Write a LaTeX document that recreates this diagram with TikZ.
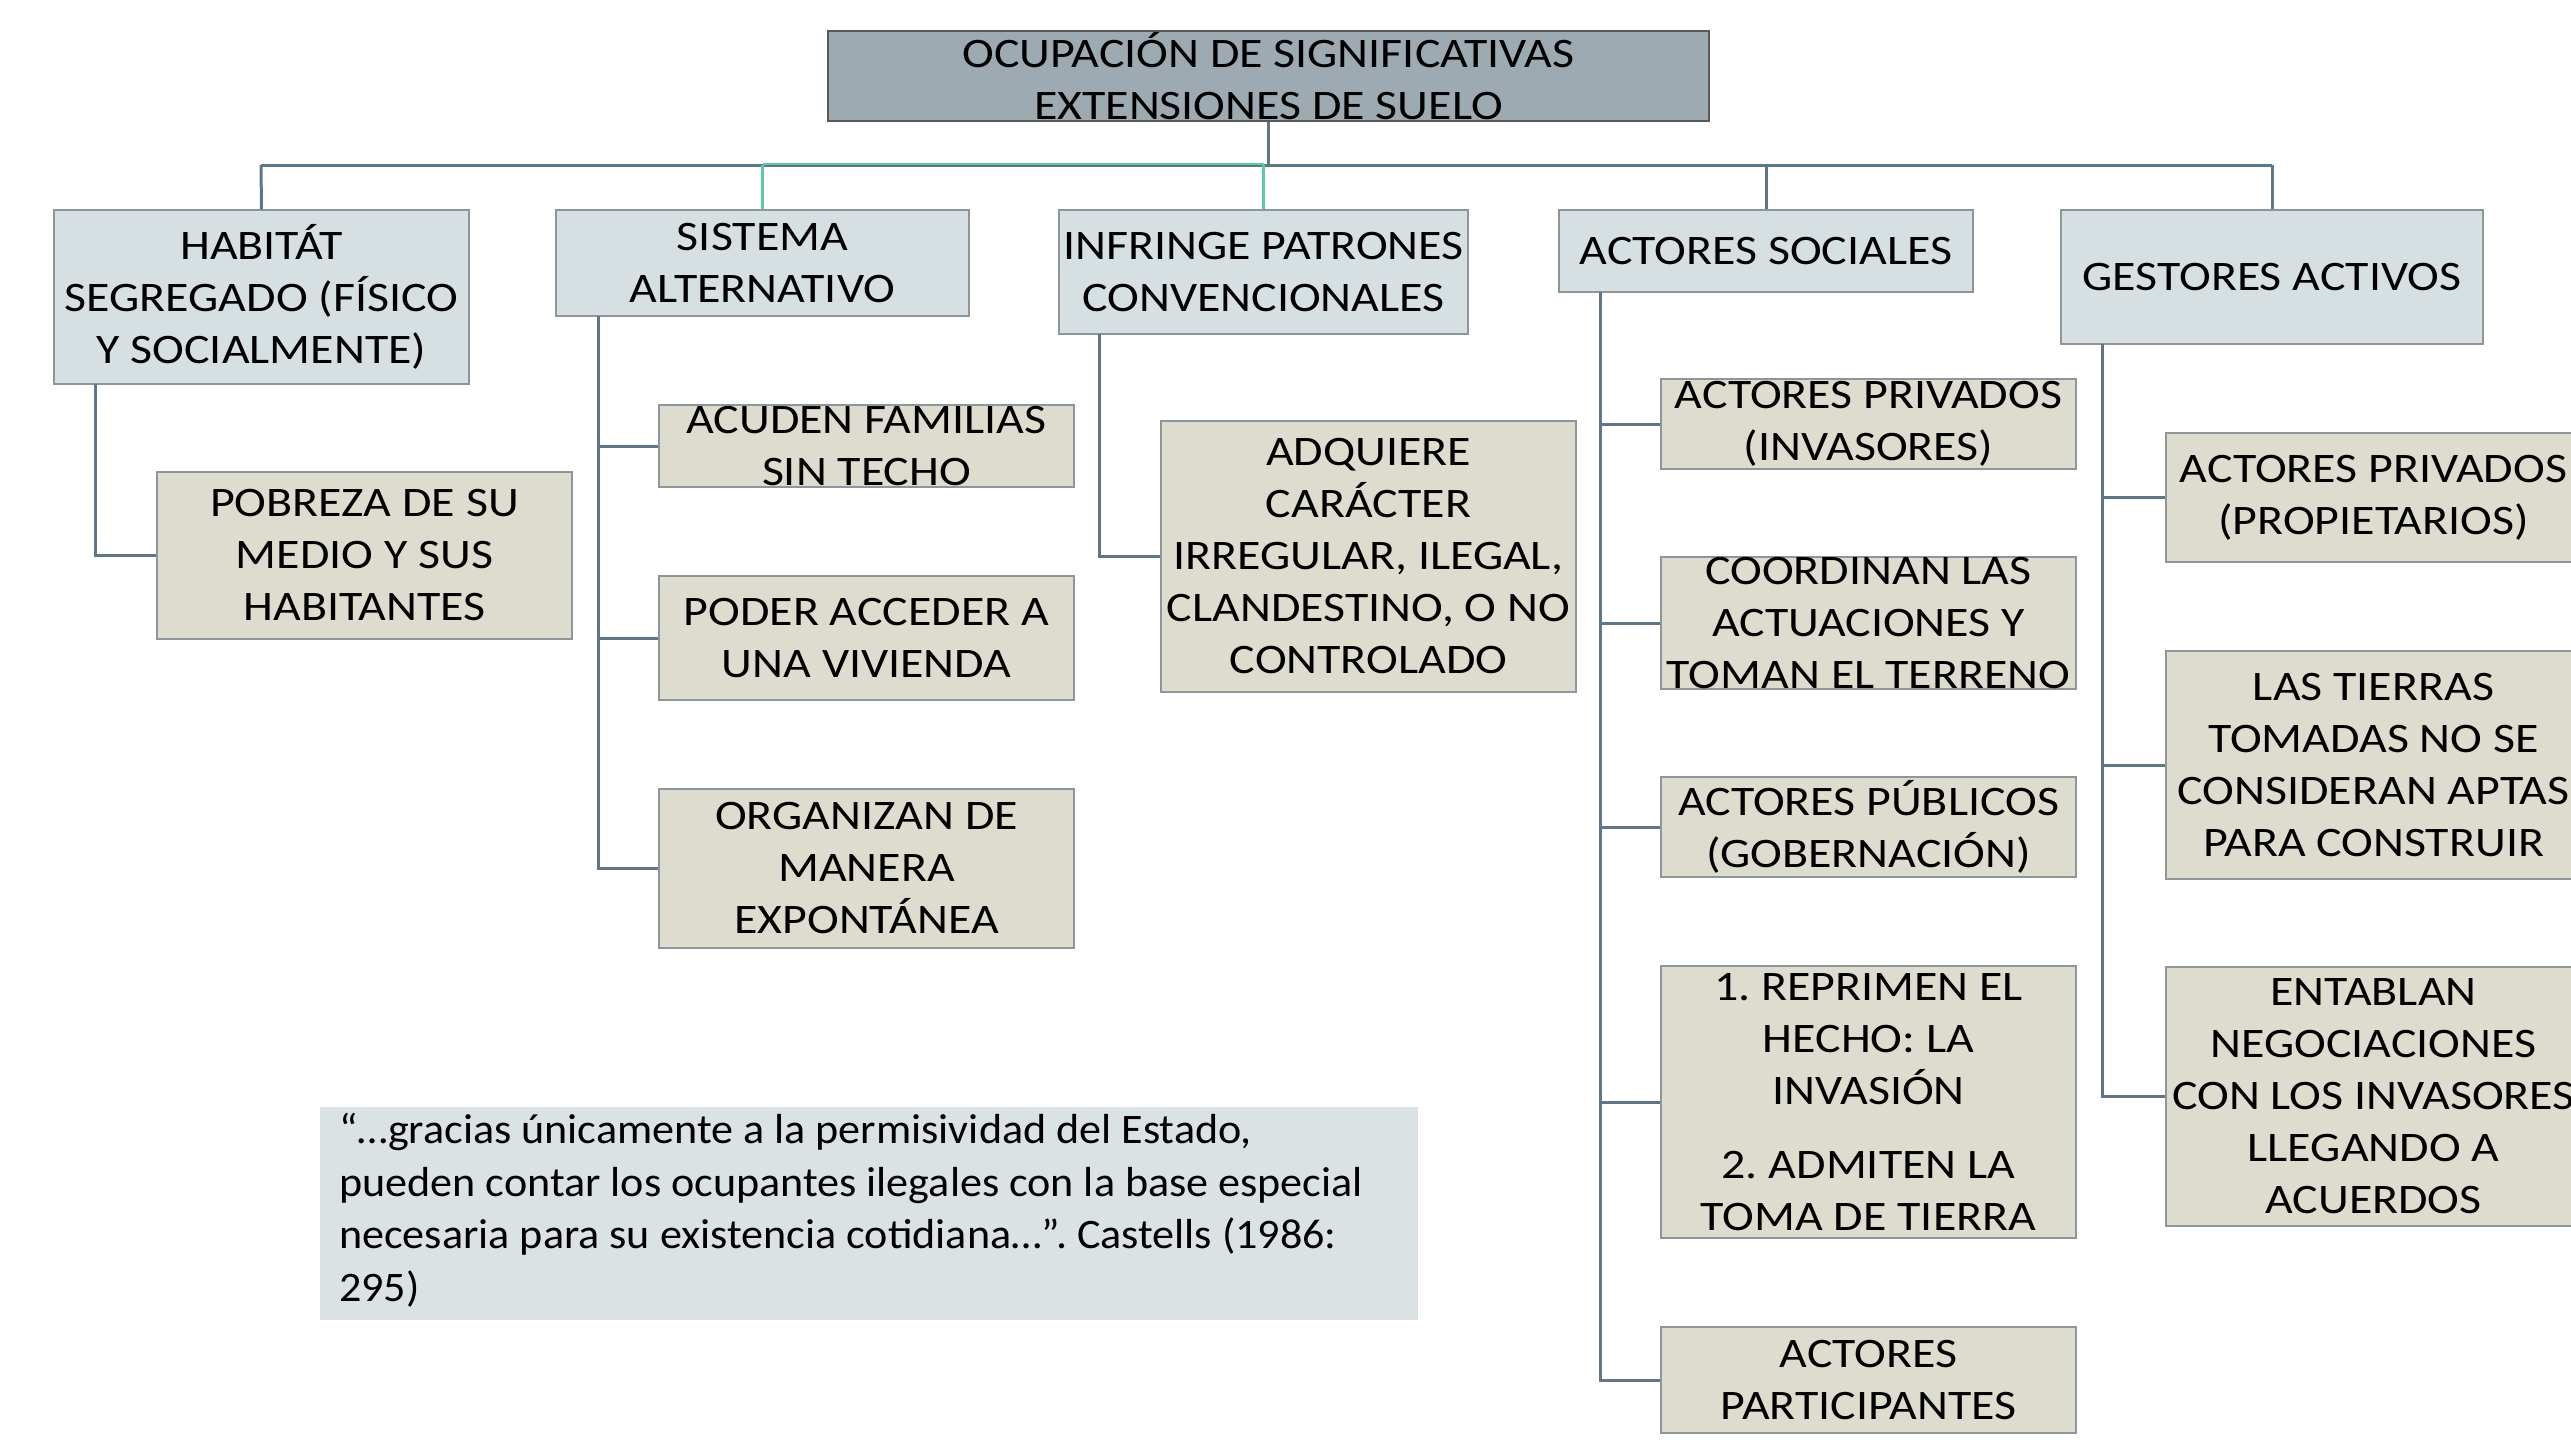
\documentclass[tikz,border=0pt]{standalone}
\usepackage{fontspec}
\setmainfont{Carlito}
\newfontfamily\boxfont{Carlito}[FakeStretch=1.14]
\newfontfamily\quotefont{Carlito}[FakeStretch=1.05]
\frenchspacing
\definecolor{rootfill}{HTML}{9DAAB2}
\definecolor{lonefill}{HTML}{D6DFE2}
\definecolor{ltwofill}{HTML}{DDDCCF}
\definecolor{quotefill}{HTML}{DAE2E4}
\definecolor{connclr}{HTML}{5E7686}
\definecolor{tealconn}{HTML}{5CC9A7}
\definecolor{boxborder}{HTML}{8E9699}
\tikzset{
  rootbox/.style={rectangle, fill=rootfill, draw=black!65, line width=1.5pt, inner sep=0pt},
  lonebox/.style={rectangle, fill=lonefill, draw=boxborder, line width=1.5pt, inner sep=0pt},
  ltwobox/.style={rectangle, fill=ltwofill, draw=boxborder, line width=1.5pt, inner sep=0pt},
  quotebox/.style={rectangle, fill=quotefill, draw=none, inner sep=0pt},
  txt/.style={align=center, inner sep=0pt, font=\boxfont\fontsize{42}{52}\selectfont\frenchspacing},
  conline/.style={draw=connclr, line width=3pt},
  tealline/.style={draw=tealconn, line width=2.2pt},
}
% style, name, x1, y1, x2, y2, text
\newcommand\mybox[7]{%
  \node[#1, minimum width={(#5-#3)*1pt}, minimum height={(#6-#4)*1pt}] (#2) at ({(#3+#5)/2},{(#4+#6)/2}) {};
  \node[txt] (#2t) at (#2.center) {#7};
}
\begin{document}
\begin{tikzpicture}[x=1pt,y=-1pt]
\useasboundingbox (0,0) rectangle (2571,1445);
\clip (0,0) rectangle (2571,1445);

% connectors of the top level
\coordinate (bus) at (1268,165);
\coordinate (busl) at (261,165);
\coordinate (busr) at (2272,165);
% boxes
\mybox{rootbox}{root}{828}{31}{1709}{121}{OCUPACIÓN DE SIGNIFICATIVAS\\EXTENSIONES DE SUELO}

\draw[conline] (root.south -| bus) -- (bus);
\draw[conline] (busl) -- (busr);

\mybox{lonebox}{habitat}{54}{210}{469}{384}{HABITÁT\\SEGREGADO (FÍSICO\\Y SOCIALMENTE)}
\mybox{lonebox}{sistema}{556}{210}{969}{316}{SISTEMA\\ALTERNATIVO}
\mybox{lonebox}{infringe}{1059}{210}{1468}{334}{INFRINGE PATRONES\\CONVENCIONALES}
\mybox{lonebox}{asoc}{1559}{210}{1973}{292}{ACTORES SOCIALES}
\mybox{lonebox}{gestores}{2061}{210}{2483}{344}{GESTORES ACTIVOS}

\draw[conline] (busl) -- (habitat.north);
\draw[conline] (asoc.north |- busr) -- (asoc.north);
\draw[conline] (busr) -- (gestores.north);
\draw[tealline] ([yshift=1pt]sistema.north |- bus) -- ([yshift=1pt]infringe.north |- bus);
\draw[tealline] (sistema.north |- bus) -- (sistema.north);
\draw[tealline] (infringe.north |- bus) -- (infringe.north);

% level 2
\mybox{ltwobox}{pobreza}{157}{472}{572}{639}{POBREZA DE SU\\MEDIO Y SUS\\HABITANTES}

\mybox{ltwobox}{acuden}{659}{405}{1074}{487}{ACUDEN FAMILIAS\\SIN TECHO}
\mybox{ltwobox}{poder}{659}{576}{1074}{700}{PODER ACCEDER A\\UNA VIVIENDA}
\mybox{ltwobox}{organizan}{659}{789}{1074}{948}{ORGANIZAN DE\\MANERA\\EXPONTÁNEA}

\mybox{ltwobox}{adquiere}{1161}{421}{1576}{692}{ADQUIERE\\CARÁCTER\\IRREGULAR, ILEGAL,\\CLANDESTINO, O NO\\CONTROLADO}

\mybox{ltwobox}{invasores}{1661}{379}{2076}{469}{ACTORES PRIVADOS\\(INVASORES)}
\mybox{ltwobox}{coordinan}{1661}{557}{2076}{689}{COORDINAN LAS\\ACTUACIONES Y\\TOMAN EL TERRENO}
\mybox{ltwobox}{publicos}{1661}{777}{2076}{877}{ACTORES PÚBLICOS\\(GOBERNACIÓN)}
\mybox{ltwobox}{reprimen}{1661}{966}{2076}{1238}{1. REPRIMEN EL\\HECHO: LA\\INVASIÓN\\[22pt]2. ADMITEN LA\\TOMA DE TIERRA}
\mybox{ltwobox}{participantes}{1661}{1327}{2076}{1433}{ACTORES\\PARTICIPANTES}

\mybox{ltwobox}{propietarios}{2166}{433}{2581}{562}{ACTORES PRIVADOS\\(PROPIETARIOS)}
\mybox{ltwobox}{tierras}{2166}{651}{2581}{879}{LAS TIERRAS\\TOMADAS NO SE\\CONSIDERAN APTAS\\PARA CONSTRUIR}
\mybox{ltwobox}{entablan}{2166}{967}{2581}{1226}{ENTABLAN\\NEGOCIACIONES\\CON LOS INVASORES\\LLEGANDO A\\ACUERDOS}

% level 2 connectors
\coordinate (habv) at (95,384);
\draw[conline] (habv) |- (pobreza.west);

\coordinate (sisv) at (598,316);
\draw[conline] (sisv) |- (organizan.west);
\draw[conline] (acuden.west) -- (acuden.west -| sisv);
\draw[conline] (poder.west) -- (poder.west -| sisv);

\coordinate (infv) at (1099,334);
\draw[conline] (infv) |- (adquiere.west);

\coordinate (asov) at (1600,292);
\draw[conline] (asov) |- (participantes.west);
\draw[conline] (invasores.west) -- (invasores.west -| asov);
\draw[conline] (coordinan.west) -- (coordinan.west -| asov);
\draw[conline] (publicos.west) -- (publicos.west -| asov);
\draw[conline] (reprimen.west) -- (reprimen.west -| asov);

\coordinate (gesv) at (2102,344);
\draw[conline] (gesv) |- (entablan.west);
\draw[conline] (propietarios.west) -- (propietarios.west -| gesv);
\draw[conline] (tierras.west) -- (tierras.west -| gesv);

% quote
\node[quotebox, minimum width=1098pt, minimum height=213pt] (quote) at (869,1213.5) {};
\node[inner sep=0pt, align=left, anchor=west, font=\quotefont\fontsize{42}{52.5}\selectfont\frenchspacing] (quotet) at (339,1210)
{“…gracias únicamente a la permisividad del Estado,\\pueden contar los ocupantes ilegales con la base especial\\necesaria para su existencia cotidiana…”. Castells (1986:\\295)};
\end{tikzpicture}
\end{document}
